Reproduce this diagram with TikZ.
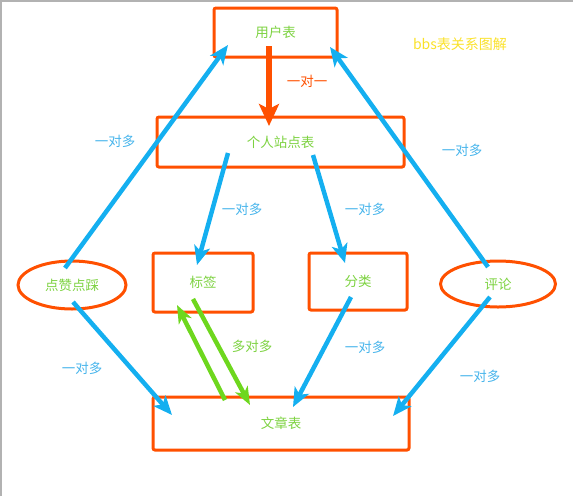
\documentclass[tikz,border=0pt]{standalone}
\usepackage{fontspec}
\newfontfamily\cjk{Noto Sans CJK SC}
\usetikzlibrary{arrows.meta}
\definecolor{boxred}{RGB}{255,80,0}
\definecolor{relblue}{RGB}{20,175,240}
\definecolor{reltext}{RGB}{70,180,235}
\definecolor{tabgreen}{RGB}{125,210,65}
\definecolor{relgreen}{RGB}{110,215,30}
\definecolor{titleyellow}{RGB}{250,225,40}
\tikzset{
  table/.style={draw=boxred, line width=3pt, rounded corners=2pt, text=tabgreen, font=\cjk\fontsize{13.5}{13.5}\selectfont},
  oval/.style={ellipse, draw=boxred, line width=3pt, text=tabgreen, font=\cjk\fontsize{13.5}{13.5}\selectfont},
  rel/.style={text=reltext, font=\cjk\fontsize{13.5}{13.5}\selectfont},
  blueline/.style={draw=relblue, line width=4.5pt, -{Stealth[length=19pt,width=16pt,inset=5pt]}},
  greenline/.style={draw=relgreen, line width=4.5pt, -{Stealth[length=18pt,width=14pt,inset=5pt]}},
}
\usetikzlibrary{shapes.geometric}
\begin{document}
\begin{tikzpicture}[x=1pt, y=-1pt]
			\useasboundingbox (0,0) rectangle (573,496);
			\draw[gray!60, line width=1.5pt] (0.75,496) -- (0.75,0.75) -- (573,0.75);
			% tables
			\node[table, minimum width=123pt, minimum height=49pt] (user) at (275.5,32.5) {用户表};
			\node[table, minimum width=247pt, minimum height=50pt] (site) at (280.5,142) {个人站点表};
			\node[table, minimum width=100pt, minimum height=59pt] (tag) at (203,282.5) {标签};
			\node[table, minimum width=98pt, minimum height=57pt] (cat) at (358,281.5) {分类};
			\node[table, minimum width=256pt, minimum height=53pt] (article) at (281,423.5) {文章表};
			\node[oval, minimum width=108pt, minimum height=48pt] (like) at (72,285) {点赞点踩};
			\node[oval, minimum width=115pt, minimum height=46pt] (comment) at (498,284) {评论};
			% title
			\node[text=titleyellow, font=\cjk\fontsize{14}{14}\selectfont] (title) at (460,44) {bbs表关系图解};
			% relations
			\draw[draw=boxred, line width=6pt, -{Stealth[length=22pt,width=20pt,inset=5pt]}]
				([shift={(-6.5,13.5)}]user.center) -- ([shift={(-11.5,-16)}]site.center);
			\draw[blueline] ([shift={(-52.5,11)}]site.center) -- ([shift={(-6,-17.5)}]tag.center);
			\draw[blueline] ([shift={(32.5,13)}]site.center) -- ([shift={(-13,-18.5)}]cat.center);
			\draw[blueline] ([shift={(-7,-17)}]like.center) -- ([shift={(-47.5,12.5)}]user.center);
			\draw[blueline] ([shift={(-10,-17)}]comment.center) -- ([shift={(54.5,14.5)}]user.center);
			\draw[blueline] ([shift={(1,17)}]like.center) -- ([shift={(-109,-8.5)}]article.center);
			\draw[blueline] ([shift={(-7,15.5)}]cat.center) -- ([shift={(12,-16.5)}]article.center);
			\draw[blueline] ([shift={(-8,13)}]comment.center) -- ([shift={(112,-7.5)}]article.center);
			\draw[greenline] ([shift={(-56,-23.5)}]article.center) -- ([shift={(-26,22.5)}]tag.center);
			\draw[greenline] ([shift={(-10,16.5)}]tag.center) -- ([shift={(-31,-18.5)}]article.center);
			% labels
			\node[text=boxred, font=\cjk\fontsize{13.5}{13.5}\selectfont] (oneone) at (307,81) {一对一};
			\node[rel] (ltop) at (115,141) {一对多};
			\node[rel] (rtop) at (462,150) {一对多};
			\node[rel] (tagrel) at (242,209) {一对多};
			\node[rel] (catrel) at (365,209) {一对多};
			\node[rel] (lbot) at (82,368) {一对多};
			\node[rel] (catart) at (365,347) {一对多};
			\node[rel] (rbot) at (480,376) {一对多};
			\node[text=tabgreen, font=\cjk\fontsize{13.5}{13.5}\selectfont] (manymany) at (252,346) {多对多};
		\end{tikzpicture}
\end{document}
